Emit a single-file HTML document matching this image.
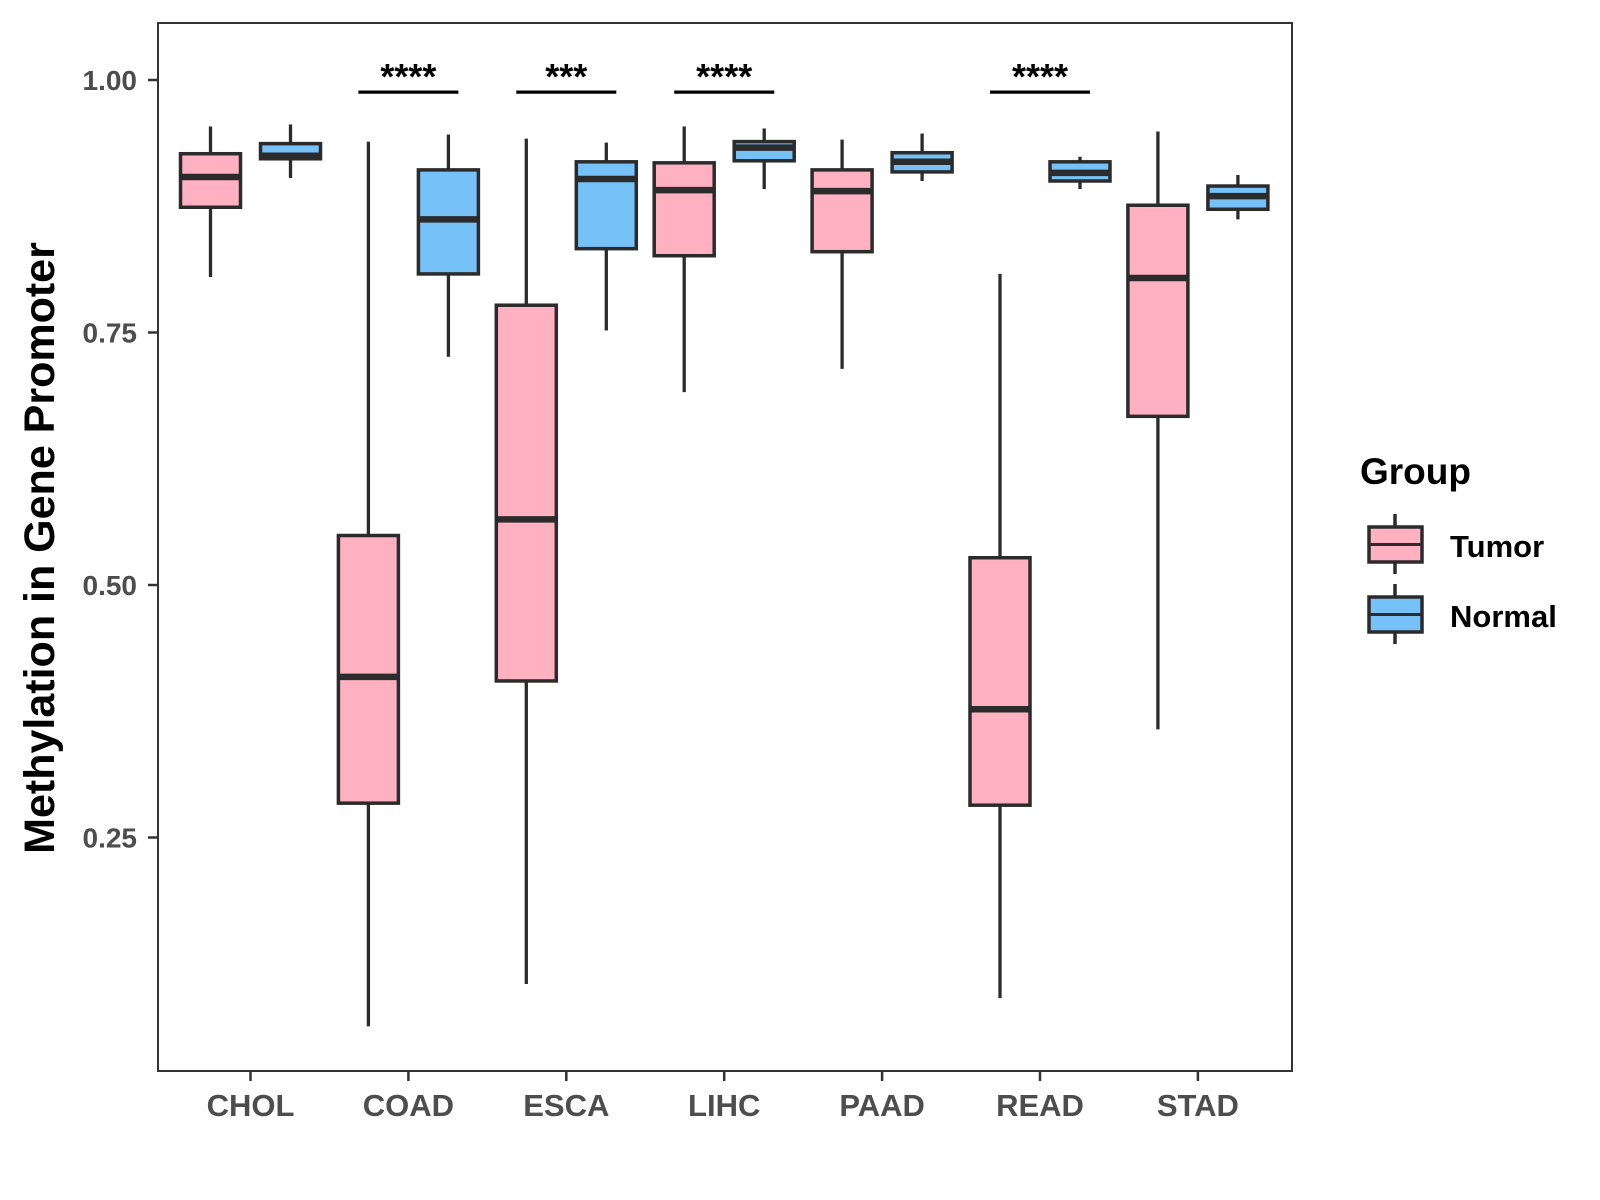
<!DOCTYPE html>
<html><head><meta charset="utf-8"><style>
html,body{margin:0;padding:0;background:#fff;}
svg{display:block;font-family:"Liberation Sans",Arial,sans-serif;}
</style></head><body>
<svg id="chart" width="1600" height="1200" viewBox="0 0 1600 1200">
<rect x="0" y="0" width="1600" height="1200" fill="#fff"/>
<g id="plot"></g>
<rect x="158" y="23" width="1134" height="1048" fill="none" stroke="#333" stroke-width="2"/>
<g id="yaxis"></g>
<g id="xaxis"></g>
<text x="0" y="0" transform="translate(54,548) rotate(-90)" text-anchor="middle" font-size="43" font-weight="bold" fill="#000">Methylation in Gene Promoter</text>
<g>
<text x="1360" y="484" font-size="37" font-weight="bold" fill="#000">Group</text>
<g>
<line x1="1395" y1="514" x2="1395" y2="574" stroke="#2b2b2b" stroke-width="3.5"/>
<rect x="1369" y="527" width="53" height="35" fill="#FFB0C1" stroke="#2b2b2b" stroke-width="3.5"/>
<line x1="1369" y1="544.5" x2="1422" y2="544.5" stroke="#2b2b2b" stroke-width="3"/>
<text x="1450" y="557" font-size="31" font-weight="bold" fill="#000">Tumor</text>
</g>
<g>
<line x1="1395" y1="584" x2="1395" y2="644" stroke="#2b2b2b" stroke-width="3.5"/>
<rect x="1369" y="597" width="53" height="35" fill="#76C1F8" stroke="#2b2b2b" stroke-width="3.5"/>
<line x1="1369" y1="614.5" x2="1422" y2="614.5" stroke="#2b2b2b" stroke-width="3"/>
<text x="1450" y="627" font-size="31" font-weight="bold" fill="#000">Normal</text>
</g>
</g>
</svg>
<script>
const categories = ["CHOL","COAD","ESCA","LIHC","PAAD","READ","STAD"];
// [low, q1, median, q3, high]
const tumorStats = [
 [0.805,0.874,0.904,0.927,0.954],
 [0.063,0.284,0.409,0.549,0.939],
 [0.105,0.405,0.565,0.777,0.942],
 [0.691,0.826,0.891,0.918,0.954],
 [0.714,0.830,0.890,0.911,0.941],
 [0.091,0.282,0.377,0.527,0.808],
 [0.357,0.667,0.804,0.876,0.949]
];
const normalStats = [
 [0.903,0.922,0.925,0.937,0.956],
 [0.726,0.808,0.862,0.911,0.946],
 [0.752,0.833,0.902,0.919,0.938],
 [0.892,0.920,0.933,0.939,0.952],
 [0.900,0.909,0.919,0.928,0.947],
 [0.892,0.900,0.908,0.919,0.924],
 [0.862,0.872,0.885,0.895,0.906]
];
const yTicks = [0.25,0.50,0.75,1.00];
const yTickLabels = ["0.25","0.50","0.75","1.00"];
const sigCategories = ["COAD","ESCA","LIHC","READ"];
const sigLabels = ["****","***","****","****"];
const sigLevel = 0.988;

const NS="http://www.w3.org/2000/svg";
function yScale(v){return 80+(1-v)*1010;}
function xScale(i){return 250.5+i*157.9;}
function mk(tag,attrs,parent){const e=document.createElementNS(NS,tag);for(const k in attrs)e.setAttribute(k,attrs[k]);parent.appendChild(e);return e;}
const plot=document.getElementById('plot');
const stroke="#2b2b2b";
function drawBox(cx,s,fill,name){
  const g=mk('g',{},plot);
  
  
  const w=60;
  mk('line',{x1:cx,x2:cx,y1:yScale(s[4]),y2:yScale(s[3]),stroke:stroke,'stroke-width':3.3},g);
  mk('line',{x1:cx,x2:cx,y1:yScale(s[1]),y2:yScale(s[0]),stroke:stroke,'stroke-width':3.3},g);
  mk('rect',{x:cx-w/2,y:yScale(s[3]),width:w,height:yScale(s[1])-yScale(s[3]),fill:fill,stroke:stroke,'stroke-width':3.5},g);
  mk('line',{x1:cx-w/2,x2:cx+w/2,y1:yScale(s[2]),y2:yScale(s[2]),stroke:stroke,'stroke-width':6.5},g);
}
categories.forEach((c,i)=>{
  drawBox(xScale(i)-40,tumorStats[i],"#FFB0C1","box-tumor-"+c.toLowerCase());
  drawBox(xScale(i)+40,normalStats[i],"#76C1F8","box-normal-"+c.toLowerCase());
});
sigCategories.forEach((c,k)=>{
  const i=categories.indexOf(c);const cx=xScale(i);const y=yScale(sigLevel);
  const g=mk('g',{},plot);
  
  
  mk('line',{x1:cx-50,x2:cx+50,y1:y,y2:y,stroke:"#000",'stroke-width':3.3},g);
  const t=mk('text',{x:cx,y:y-3,'text-anchor':'middle','font-size':36,'font-weight':'bold',fill:'#000'},g);
  t.textContent=sigLabels[k];
});
const ya=document.getElementById('yaxis');
yTicks.forEach((v,k)=>{
  const y=yScale(v);
  const l=mk('line',{x1:148,x2:158,y1:y,y2:y,stroke:"#333",'stroke-width':2.5},ya);
  
  
  const t=mk('text',{x:137,y:y+10,'text-anchor':'end','font-size':28,'font-weight':'bold',fill:'#4d4d4d'},ya);
  
  
  t.textContent=yTickLabels[k];
});
const xa=document.getElementById('xaxis');
categories.forEach((c,i)=>{
  const x=xScale(i);
  const l=mk('line',{x1:x,x2:x,y1:1071,y2:1081,stroke:"#333",'stroke-width':2.5},xa);
  
  
  const t=mk('text',{x:x,y:1116,'text-anchor':'middle','font-size':31,'font-weight':'bold',fill:'#4d4d4d'},xa);
  
  
  t.textContent=c;
});
</script>
</body></html>
